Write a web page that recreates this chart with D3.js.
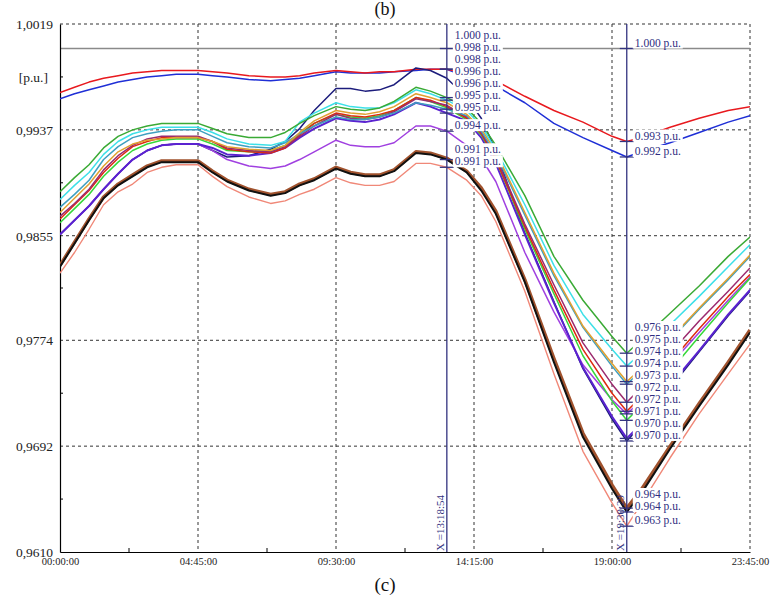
<!DOCTYPE html>
<html><head><meta charset="utf-8">
<script src="https://cdn.jsdelivr.net/npm/d3@7"></script>
<style>body{margin:0;background:#fff;} svg{display:block;font-family:"Liberation Serif","Times New Roman",serif;}</style>
</head><body>
<svg id="chart" width="770" height="596"></svg>
<script>
// ---- data (time in hours, values in p.u.) ----
const times = [0,0.5,1,1.5,2,2.5,3,3.5,4,4.75,5.25,5.75,6.5,7.25,7.75,8.25,8.75,9.5,10,10.5,11,11.5,12.25,12.75,13.315,14,14.5,15,16,17,18,19,19.5081,20,21,22,23,23.75];
const redTop   = [0.9966,0.9970,0.9974,0.9977,0.9979,0.9981,0.9982,0.9983,0.9983,0.9983,0.9982,0.9981,0.9979,0.9978,0.9978,0.9979,0.9981,0.9983,0.9982,0.9981,0.9982,0.9982,0.9984,0.9984,0.9984,0.9981,0.9977,0.9975,0.9963,0.9952,0.9943,0.9932,0.9928,0.9931,0.9939,0.9946,0.9952,0.9955];
const blueTop  = [0.9961,0.9965,0.9968,0.9971,0.9974,0.9976,0.9978,0.9979,0.9980,0.9980,0.9979,0.9978,0.9976,0.9975,0.9976,0.9977,0.9979,0.9982,0.9981,0.9981,0.9981,0.9982,0.9983,0.9984,0.9984,0.9978,0.9974,0.9971,0.9958,0.9942,0.9931,0.9921,0.9916,0.9920,0.9927,0.9935,0.9943,0.9948];
const navy     = [0.9856,0.9867,0.9878,0.9891,0.9903,0.9914,0.9921,0.9925,0.9926,0.9926,0.9921,0.9916,0.9917,0.9922,0.9928,0.9938,0.9952,0.9969,0.9969,0.9967,0.9968,0.9972,0.9985,0.9983,0.9977,0.9962,0.9946,0.9921,0.9857,0.9804,0.9752,0.9713,0.9696,0.9708,0.9737,0.9765,0.9793,0.9812];
const green    = [0.9889,0.9900,0.9910,0.9923,0.9932,0.9937,0.9940,0.9942,0.9942,0.9942,0.9938,0.9934,0.9931,0.9931,0.9935,0.9942,0.9948,0.9955,0.9953,0.9952,0.9954,0.9959,0.9970,0.9967,0.9962,0.9954,0.9942,0.9925,0.9886,0.9839,0.9805,0.9777,0.9764,0.9774,0.9795,0.9816,0.9839,0.9854];
const cyan     = [0.9883,0.9894,0.9904,0.9918,0.9928,0.9934,0.9937,0.9939,0.9939,0.9939,0.9935,0.9930,0.9926,0.9925,0.9928,0.9943,0.9950,0.9958,0.9955,0.9954,0.9954,0.9958,0.9968,0.9965,0.9960,0.9952,0.9940,0.9922,0.9879,0.9832,0.9794,0.9767,0.9754,0.9764,0.9786,0.9808,0.9831,0.9848];
const teal     = [0.9877,0.9887,0.9898,0.9914,0.9924,0.9931,0.9934,0.9936,0.9937,0.9937,0.9932,0.9927,0.9924,0.9923,0.9927,0.9934,0.9940,0.9947,0.9945,0.9945,0.9947,0.9950,0.9958,0.9956,0.9953,0.9948,0.9936,0.9918,0.9871,0.9824,0.9784,0.9754,0.9740,0.9750,0.9774,0.9798,0.9821,0.9839];
const orange   = [0.9873,0.9884,0.9895,0.9909,0.9920,0.9926,0.9929,0.9930,0.9931,0.9931,0.9928,0.9924,0.9922,0.9921,0.9925,0.9935,0.9944,0.9952,0.9950,0.9949,0.9951,0.9955,0.9965,0.9962,0.9958,0.9949,0.9938,0.9920,0.9873,0.9826,0.9785,0.9756,0.9742,0.9752,0.9775,0.9799,0.9822,0.9840];
const maroon   = [0.9870,0.9880,0.9891,0.9906,0.9917,0.9925,0.9930,0.9932,0.9932,0.9932,0.9928,0.9923,0.9921,0.9920,0.9924,0.9932,0.9940,0.9949,0.9946,0.9945,0.9947,0.9951,0.9961,0.9959,0.9956,0.9947,0.9935,0.9916,0.9864,0.9817,0.9772,0.9740,0.9726,0.9737,0.9764,0.9789,0.9812,0.9830];
const redGroup = [0.9868,0.9879,0.9890,0.9904,0.9915,0.9924,0.9928,0.9931,0.9931,0.9931,0.9928,0.9922,0.9920,0.9919,0.9923,0.9933,0.9942,0.9950,0.9948,0.9947,0.9949,0.9952,0.9962,0.9960,0.9955,0.9946,0.9934,0.9914,0.9862,0.9813,0.9767,0.9733,0.9719,0.9730,0.9757,0.9783,0.9808,0.9825];
const lime     = [0.9865,0.9876,0.9887,0.9901,0.9912,0.9921,0.9926,0.9929,0.9930,0.9930,0.9926,0.9921,0.9920,0.9921,0.9925,0.9934,0.9942,0.9949,0.9947,0.9946,0.9948,0.9952,0.9962,0.9959,0.9954,0.9945,0.9933,0.9914,0.9860,0.9810,0.9762,0.9727,0.9712,0.9723,0.9750,0.9777,0.9803,0.9822];
const indigo   = [0.9856,0.9867,0.9878,0.9891,0.9903,0.9914,0.9921,0.9925,0.9926,0.9926,0.9923,0.9918,0.9917,0.9919,0.9923,0.9931,0.9938,0.9946,0.9944,0.9943,0.9945,0.9949,0.9958,0.9955,0.9950,0.9944,0.9931,0.9911,0.9856,0.9803,0.9753,0.9715,0.9698,0.9709,0.9739,0.9766,0.9794,0.9813];
const violet   = [0.9856,0.9867,0.9878,0.9891,0.9903,0.9914,0.9921,0.9925,0.9926,0.9926,0.9921,0.9914,0.9909,0.9907,0.9909,0.9914,0.9920,0.9929,0.9925,0.9924,0.9924,0.9927,0.9940,0.9940,0.9936,0.9925,0.9915,0.9897,0.9842,0.9796,0.9755,0.9728,0.9717,0.9727,0.9755,0.9780,0.9805,0.9823];
const black    = [0.9831,0.9849,0.9867,0.9884,0.9894,0.9901,0.9908,0.9912,0.9912,0.9912,0.9904,0.9897,0.9890,0.9886,0.9888,0.9894,0.9898,0.9907,0.9903,0.9901,0.9901,0.9905,0.9919,0.9918,0.9914,0.9904,0.9890,0.9872,0.9819,0.9757,0.9699,0.9659,0.9641,0.9655,0.9690,0.9723,0.9755,0.9780];
const brown    = [0.9832,0.9850,0.9868,0.9885,0.9895,0.9902,0.9909,0.9913,0.9913,0.9913,0.9905,0.9898,0.9891,0.9887,0.9889,0.9895,0.9899,0.9908,0.9904,0.9902,0.9902,0.9906,0.9920,0.9919,0.9915,0.9905,0.9892,0.9874,0.9821,0.9760,0.9702,0.9662,0.9644,0.9658,0.9692,0.9725,0.9757,0.9782];
const salmon   = [0.9826,0.9842,0.9860,0.9879,0.9889,0.9895,0.9904,0.9908,0.9910,0.9910,0.9901,0.9893,0.9885,0.9880,0.9882,0.9887,0.9891,0.9900,0.9896,0.9894,0.9894,0.9897,0.9911,0.9911,0.9908,0.9898,0.9886,0.9866,0.9812,0.9748,0.9688,0.9648,0.9630,0.9647,0.9683,0.9717,0.9748,0.9771];

const referenceValue = 1.000;
const yTicks = [0.9610, 0.9692, 0.9774, 0.9855, 0.9937, 1.0019];
const xTicks = [0, 4.75, 9.5, 14.25, 19, 23.75];
const unitLabel = "[p.u.]";
const cursorTimes = [13.315, 19.5081];
const cursor1Labeled = ["redTop","blueTop","green","cyan","teal","indigo","violet","black","salmon"];
const titleTop = "(b)";
const titleBottom = "(c)";

// ---- styles ----
const series = [
  {key:"blueTop", v:blueTop, c:"#1f2fd6", w:1.5},
  {key:"redTop", v:redTop, c:"#e8191e", w:1.5},
  {key:"navy", v:navy, c:"#1c1c7c", w:1.5},
  {key:"violet", v:violet, c:"#a040e0", w:1.5},
  {key:"salmon", v:salmon, c:"#f08878", w:1.4},
  {key:"brown", v:brown, c:"#a0522d", w:3.4},
  {key:"black", v:black, c:"#111111", w:2},
  {key:"indigo", v:indigo, c:"#5a22d0", w:2},
  {key:"lime", v:lime, c:"#36d83a", w:1.5},
  {key:"redGroup", v:redGroup, c:"#dd2a10", w:1.5},
  {key:"maroon", v:maroon, c:"#9b2a6e", w:1.5},
  {key:"teal", v:teal, c:"#3f9fc0", w:1.5},
  {key:"orange", v:orange, c:"#e0a030", w:1.5},
  {key:"cyan", v:cyan, c:"#3de0e8", w:1.5},
  {key:"green", v:green, c:"#3aaa35", w:1.5}
];

const L=60, R=750, T=24, B=552;
const svg = d3.select("#chart");
const x = d3.scaleLinear().domain([0, 23.75]).range([L, R]);
const y = d3.scaleLinear().domain([0.9610, 1.0019]).range([B, T]);
const gridColor = "#333";
const cursorColor = "#33337f";
const labelColor = "#2e2e80";

svg.append("defs").append("clipPath").attr("id","clip")
  .append("rect").attr("x",L).attr("y",T).attr("width",R-L).attr("height",B-T);

// grid
const grid = svg.append("g");
yTicks.slice(1).forEach(v=>{
  grid.append("line").attr("x1",L).attr("x2",R).attr("y1",y(v)).attr("y2",y(v))
    .attr("stroke",gridColor).attr("stroke-dasharray","3,3").attr("stroke-width",1);
});
xTicks.slice(1).forEach(t=>{
  grid.append("line").attr("x1",x(t)).attr("x2",x(t)).attr("y1",T).attr("y2",B)
    .attr("stroke",gridColor).attr("stroke-dasharray","3,3").attr("stroke-width",1);
});

// reference line
svg.append("line").attr("x1",L).attr("x2",R).attr("y1",y(referenceValue)).attr("y2",y(referenceValue))
  .attr("stroke","#8a8a8a").attr("stroke-width",1.5);

// axes
const fmtY = v => d3.format(".4f")(v).replace(".", ",");
const yAxis = svg.append("g").attr("transform",`translate(${L},0)`)
  .call(d3.axisLeft(y).tickValues(yTicks).tickFormat(fmtY).tickSize(0).tickPadding(7));
yAxis.select(".domain").attr("stroke","#000").attr("stroke-width",1.2);
yAxis.selectAll("text").attr("font-size","13.5px").attr("font-family","Liberation Serif").attr("fill","#222");

const fmtT = h => { const s=Math.round(h*3600); const hh=Math.floor(s/3600), mm=Math.floor((s%3600)/60), ss=s%60;
  return [hh,mm,ss].map(n=>String(n).padStart(2,"0")).join(":"); };
const xAxis = svg.append("g").attr("transform",`translate(0,${B})`)
  .call(d3.axisBottom(x).tickValues(xTicks).tickFormat(fmtT).tickSize(0).tickPadding(6));
xAxis.select(".domain").attr("stroke","#000").attr("stroke-width",1.2);
xAxis.selectAll("text").attr("font-size","10.5px").attr("font-family","Liberation Serif").attr("fill","#222");

// minor ticks
for (let i=0;i<yTicks.length-1;i++){
  const m=(yTicks[i]+yTicks[i+1])/2;
  svg.append("line").attr("x1",L).attr("x2",L+3).attr("y1",y(m)).attr("y2",y(m)).attr("stroke","#000");
}
for (let i=0;i<xTicks.length-1;i++){
  const m=(xTicks[i]+xTicks[i+1])/2;
  svg.append("line").attr("x1",x(m)).attr("x2",x(m)).attr("y1",B).attr("y2",B-4).attr("stroke","#000");
}
svg.append("text").attr("x",L-12).attr("y",y((yTicks[4]+yTicks[5])/2)).attr("dy","0.35em")
  .attr("text-anchor","end").attr("font-size","13.5px").attr("fill","#222").text(unitLabel);

// lines
const line = d3.line().x((d,i)=>x(times[i])).y(d=>y(d));
const lg = svg.append("g").attr("clip-path","url(#clip)");
series.forEach(s=>{
  lg.append("path").attr("d",line(s.v)).attr("fill","none").attr("stroke",s.c)
    .attr("stroke-width",s.w).attr("stroke-linejoin","round");
});

function valueAt(vals, t){
  const i = d3.bisectLeft(times, t);
  if (times[i]===t) return vals[i];
  const t0=times[i-1], t1=times[i];
  return vals[i-1] + (vals[i]-vals[i-1])*(t-t0)/(t1-t0);
}

function drawCursor(t, keys){
  const cx = x(t);
  svg.append("line").attr("x1",cx).attr("x2",cx).attr("y1",T).attr("y2",B)
    .attr("stroke",cursorColor).attr("stroke-width",1.3);
  const items = [{v:referenceValue}];
  series.forEach(s=>{ if(!keys || keys.includes(s.key)) items.push({v:valueAt(s.v,t)}); });
  items.forEach(d=>d.ty=y(d.v));
  items.sort((a,b)=>b.ty-a.ty);
  let prev = Infinity;
  items.forEach(d=>{ d.ly = Math.min(d.ty-6, prev-12); prev=d.ly; });
  items.forEach(d=>{
    svg.append("line").attr("x1",cx-7).attr("x2",cx+7).attr("y1",d.ty).attr("y2",d.ty)
      .attr("stroke",cursorColor).attr("stroke-width",1.3);
  });
  items.forEach(d=>{
    const g = svg.append("g");
    const r = g.append("rect").attr("x",cx+6).attr("y",d.ly-6).attr("height",12).attr("fill","#fff");
    const tx = g.append("text").attr("x",cx+8).attr("y",d.ly).attr("dy","0.35em")
      .attr("font-size","11.5px").attr("fill",labelColor).text(d.v.toFixed(3)+" p.u.");
    r.attr("width", tx.node().getComputedTextLength()+4);
  });
  svg.append("text").attr("transform",`translate(${cx-3},${B-1}) rotate(-90)`)
    .attr("font-size","11px").attr("fill",cursorColor).text("X =" + fmtT(t));
}
drawCursor(cursorTimes[0], cursor1Labeled);
drawCursor(cursorTimes[1], null);

// titles
svg.append("text").attr("x",385).attr("y",15).attr("text-anchor","middle").attr("font-size","18px").attr("fill","#111").text(titleTop);
svg.append("text").attr("x",385).attr("y",591).attr("text-anchor","middle").attr("font-size","19px").attr("fill","#111").text(titleBottom);
</script>
</body></html>
